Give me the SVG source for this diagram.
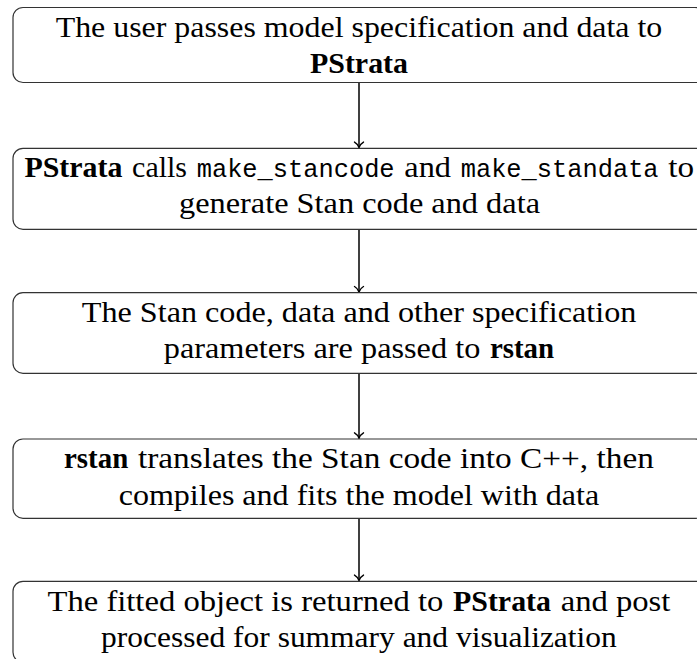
<svg xmlns="http://www.w3.org/2000/svg" width="697" height="659" viewBox="0 0 697 659">
<style>
.box{fill:#fff;stroke:#333;stroke-width:1.2}
text{font-family:'Liberation Serif',serif;font-size:30px;fill:#000}
.b{font-weight:bold}
.m{font-family:'Liberation Mono',monospace;font-size:25px}
.edge{fill:none;stroke:#000;stroke-width:1.5}
</style>
<defs>
<marker id="arr" markerUnits="userSpaceOnUse" markerWidth="14" markerHeight="14" viewBox="-7 -7 14 14" refX="0" refY="0" orient="auto">
<path d="M-5.5,-4.5 C-4,-1.8 -1.5,-0.5 0,0 C-1.5,0.5 -4,1.8 -5.5,4.5" fill="none" stroke="#000" stroke-width="1.4" stroke-linecap="round"/>
</marker>
</defs>
<rect width="697" height="659" fill="#fff"/>
<g id="connectors">
<line class="edge" x1="359" y1="82.5" x2="359" y2="147.6" marker-end="url(#arr)"/>
<line class="edge" x1="359" y1="229.3" x2="359" y2="292" marker-end="url(#arr)"/>
<line class="edge" x1="359" y1="373.3" x2="359" y2="438.3" marker-end="url(#arr)"/>
<line class="edge" x1="359" y1="518.3" x2="359" y2="580.6" marker-end="url(#arr)"/>
</g>
<g id="node1">
<rect class="box" x="13" y="7.5" width="692" height="75" rx="10"/>
<text x="55.7" y="37.3" textLength="606.6" lengthAdjust="spacingAndGlyphs">The user passes model specification and data to</text>
<text class="b" x="310" y="73.3" textLength="98" lengthAdjust="spacingAndGlyphs">PStrata</text>
</g>
<g id="node2">
<rect class="box" x="13" y="148.3" width="692" height="81" rx="10"/>
<text y="177.3"><tspan class="b" x="24.4" textLength="98" lengthAdjust="spacingAndGlyphs">PStrata</tspan><tspan x="132.1" textLength="54.9" lengthAdjust="spacingAndGlyphs">calls</tspan><tspan class="m" x="196.7" textLength="197.9" lengthAdjust="spacingAndGlyphs">make_stancode</tspan><tspan x="404.3" textLength="46.7" lengthAdjust="spacingAndGlyphs">and</tspan><tspan class="m" x="460.7" textLength="197.9" lengthAdjust="spacingAndGlyphs">make_standata</tspan><tspan x="668.2" textLength="25.8" lengthAdjust="spacingAndGlyphs">to</tspan></text>
<text x="179" y="212.7" textLength="361" lengthAdjust="spacingAndGlyphs">generate Stan code and data</text>
</g>
<g id="node3">
<rect class="box" x="13" y="292.7" width="692" height="80.6" rx="10"/>
<text x="81.8" y="321.7" textLength="554.5" lengthAdjust="spacingAndGlyphs">The Stan code, data and other specification</text>
<text y="358.3"><tspan x="163.8" textLength="316.5" lengthAdjust="spacingAndGlyphs">parameters are passed to</tspan><tspan class="b" x="489.9" textLength="64.2" lengthAdjust="spacingAndGlyphs">rstan</tspan></text>
</g>
<g id="node4">
<rect class="box" x="13" y="439" width="692" height="79.3" rx="10"/>
<text y="468.3"><tspan class="b" x="64" textLength="64.2" lengthAdjust="spacingAndGlyphs">rstan</tspan><tspan x="137.9" textLength="516" lengthAdjust="spacingAndGlyphs">translates the Stan code into C++, then</tspan></text>
<text x="118.7" y="504.5" textLength="480.5" lengthAdjust="spacingAndGlyphs">compiles and fits the model with data</text>
</g>
<g id="node5">
<rect class="box" x="13" y="581.3" width="692" height="81" rx="10"/>
<text y="610.5"><tspan x="47.5" textLength="395.9" lengthAdjust="spacingAndGlyphs">The fitted object is returned to</tspan><tspan class="b" x="453" textLength="98" lengthAdjust="spacingAndGlyphs">PStrata</tspan><tspan x="560.7" textLength="109.7" lengthAdjust="spacingAndGlyphs">and post</tspan></text>
<text x="101.1" y="646.5" textLength="515.7" lengthAdjust="spacingAndGlyphs">processed for summary and visualization</text>
</g>
</svg>
